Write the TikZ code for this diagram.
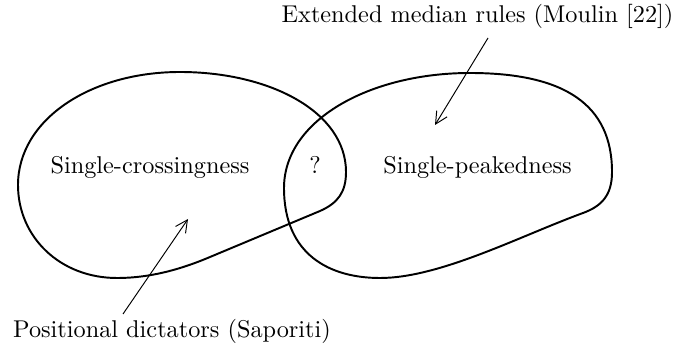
\documentclass[tikz,border=0pt]{standalone}
\usetikzlibrary{arrows.meta}
\begin{document}
\begin{tikzpicture}[x=0.412pt,y=-0.412pt,
  blob/.style={line width=0.8pt},
  pointer/.style={line width=0.4pt,-{Straight Barb[length=5pt,width=5pt]}},
  label/.style={anchor=base,inner sep=0pt}]
\useasboundingbox (0,0) rectangle (675,351);
% left blob
\draw[blob] (180,72) .. controls (270,72) and (346,112) .. (346,172)
  .. controls (346,192) and (338,203) .. (320,211)
  -- (210,257)
  .. controls (170,274) and (140,278) .. (117,278)
  .. controls (60,278) and (18,237) .. (18,185)
  .. controls (18,120) and (90,72) .. (180,72) -- cycle;
% right blob
\draw[blob] (470,73) .. controls (565,73) and (612,105) .. (612,172)
  .. controls (612,195) and (602,206) .. (583,213)
  .. controls (520,236) and (440,278) .. (380,278)
  .. controls (330,278) and (284,255) .. (284,188)
  .. controls (284,120) and (370,73) .. (470,73) -- cycle;
\node[label] (sc) at (150,174) {Single-crossingness};
\node[label] (q) at (315,174) {?};
\node[label] (sp) at (477.5,174) {Single-peakedness};
\node[label] (emr) at (477.5,23) {Extended median rules (Moulin [22])};
\node[label] (pd) at (172,338) {Positional dictators (Saporiti)};
\coordinate (a1s) at (488,38);
\coordinate (a1e) at (435,125);
\coordinate (a2s) at (123,314);
\coordinate (a2e) at (188,219);
\draw[pointer] (a1s) -- (a1e);
\draw[pointer] (a2s) -- (a2e);
\end{tikzpicture}
\end{document}
